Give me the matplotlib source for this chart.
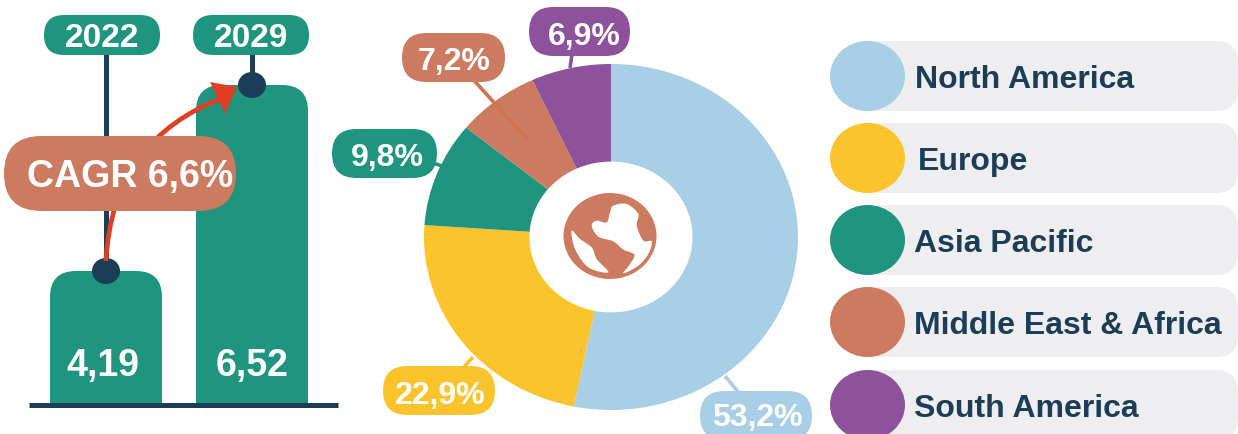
import matplotlib
matplotlib.use("Agg")
import matplotlib.pyplot as plt
from matplotlib.patches import FancyBboxPatch, Ellipse, PathPatch, Polygon
from matplotlib.path import Path

# Data
years = ["2022", "2029"]
market_values = [4.19, 6.52]
cagr = 6.6
regions = ["North America", "Europe", "Asia Pacific", "Middle East & Africa", "South America"]
shares = [53.2, 22.9, 9.8, 7.2, 6.9]

# Colours
TEAL = "#1F9580"
NAVY = "#1B3D57"
CORAL = "#CC7A60"
YELLOW = "#FBC42D"
BLUE = "#A8CFE6"
PURPLE = "#8E519B"
RED = "#E03E24"
GREY = "#EEEEF0"
region_colors = [BLUE, YELLOW, TEAL, CORAL, PURPLE]

W, H = 1238, 435
plt.rcParams["font.family"] = ["Liberation Sans", "DejaVu Sans"]
plt.rcParams["font.weight"] = "bold"


def comma(v, digits=1):
    return f"{v:.{digits}f}".replace(".", ",")


def px_axes(x0, y0, x1, y1, zorder):
    # axes placed with pixel coords measured from the top left
    ax = fig.add_axes([x0 / W, 1 - y1 / H, (x1 - x0) / W, (y1 - y0) / H], zorder=zorder)
    ax.patch.set_alpha(0)
    return ax


def pill(ax, x0, y0, x1, y1, color, radius=None, zorder=3):
    r = (y1 - y0) / 2 if radius is None else radius
    ax.add_patch(FancyBboxPatch((x0, y0), x1 - x0, y1 - y0, boxstyle=f"round,pad=0,rounding_size={r}",
                                fc=color, ec="none", zorder=zorder))


def label(ax, x, yc, s, size, color="white", ha="center", zorder=7):
    # yc is the middle of the capitals, so commas do not push the text up
    ax.text(x, yc + 0.35 * size * 100 / 72, s, color=color, fontsize=size, ha=ha, va="baseline", zorder=zorder)


def blob(points):
    # smooth closed outline through the points
    n = len(points)
    verts = [points[0]]
    codes = [Path.MOVETO]
    for i in range(n):
        p0, p1, p2, p3 = points[i - 1], points[i], points[(i + 1) % n], points[(i + 2) % n]
        c1 = (p1[0] + (p2[0] - p0[0]) / 6, p1[1] + (p2[1] - p0[1]) / 6)
        c2 = (p2[0] - (p3[0] - p1[0]) / 6, p2[1] - (p3[1] - p1[1]) / 6)
        verts += [c1, c2, p2]
        codes += [Path.CURVE4] * 3
    return Path(verts, codes)


fig = plt.figure(figsize=(W / 100, H / 100), dpi=100)

# Bars: axis does not start at zero, baseline sits at about 2.52
ax_bar = px_axes(0, 0, 350, 405, 1)
ax_bar.set_xlim(0, 350)
ax_bar.set_ylim(2.524, 7.597)
ax_bar.axis("off")
bar_centers = [106, 252]
per_px = (7.597 - 2.524) / 405
stem_top = 2.524 + (405 - 40) * per_px
for cx, v in zip(bar_centers, market_values):
    ax_bar.add_patch(FancyBboxPatch((cx - 56, 2.0), 112, v - 2.0, boxstyle="round,pad=0,rounding_size=26",
                                    mutation_aspect=per_px, fc=TEAL, ec="none", zorder=2))
    ax_bar.plot([cx, cx], [v, stem_top], color=NAVY, lw=3.6, zorder=1, solid_capstyle="butt")

# Donut, the picture is squashed a bit vertically
ax_pie = px_axes(424, 65, 798, 411, 2)
ax_pie.pie(shares, colors=region_colors, startangle=90, counterclock=False, radius=1,
           wedgeprops=dict(width=0.564, linewidth=0))
ax_pie.set_aspect("auto")
ax_pie.set_xlim(-1, 1)
ax_pie.set_ylim(-1, 1)

# Everything else in pixel coords
ax = px_axes(0, 0, W, H, 3)
ax.set_xlim(0, W)
ax.set_ylim(H, 0)
ax.axis("off")

# baseline
ax.plot([29, 338], [405.5, 405.5], color=NAVY, lw=3.6, solid_capstyle="butt", zorder=2)

# dots on top of the bars
for cx, v in zip(bar_centers, market_values):
    y = 405 - (v - 2.524) / per_px
    ax.add_patch(Ellipse((cx, y), 28, 26, fc=NAVY, ec="none", zorder=4))

# year pills
for (x0, x1), year in zip([(44, 160), (193, 309)], years):
    pill(ax, x0, 16, x1, 56, TEAL)
    label(ax, (x0 + x1) / 2, 35, year, 24)

# values in the bars
for cx, v in zip([102.5, 252], market_values):
    label(ax, cx, 362.5, comma(v, 2), 27)

# CAGR arrow
arrow = Path([(106, 262), (112, 140), (225, 98)], [Path.MOVETO, Path.CURVE3, Path.CURVE3])
ax.add_patch(PathPatch(arrow, fc="none", ec=RED, lw=3.4, zorder=5))
ax.add_patch(Polygon([(237, 88), (210, 83), (225, 115)], closed=True, fc=RED, ec="none", zorder=5))
pill(ax, 4, 137, 236, 212, CORAL, zorder=6)
label(ax, 130.5, 174, f"CAGR {comma(cagr)}%", 27)

# pie label pills and their connectors
label_pills = [(700, 392, 812, 441), (383, 367, 495, 416), (332, 130, 437, 179),
               (402, 34, 505, 83), (529, 8, 630, 57)]
label_text_x = [757, 440, 387, 454, 584]
label_text_y = [415, 393, 155, 58.5, 34]
connectors = [((725, 377), (739, 394)), ((473, 358), (463, 369)), ((433, 164), (442, 167)),
              ((470, 77), (527, 140)), ((572, 55), (570, 69))]
connector_colors = [BLUE, YELLOW, TEAL, "#D4714F", PURPLE]
for box, tx, ty, con, cc, col, share in zip(label_pills, label_text_x, label_text_y, connectors,
                                            connector_colors, region_colors, shares):
    ax.plot([con[0][0], con[1][0]], [con[0][1], con[1][1]], color=cc, lw=2.6, zorder=2, solid_capstyle="butt")
    pill(ax, *box, col)
    label(ax, tx, ty, f"{comma(share)}%", 23)

# globe icon
def zoomed(pts):
    return [(555 + x / 3, 185 + y / 3) for x, y in pts]

ax.add_patch(Ellipse((610, 237), 93, 86, fc=CORAL, ec="none", zorder=3))
ocean_a = zoomed([(175, 65), (215, 60), (250, 90), (245, 125), (265, 170), (290, 172), (280, 210), (250, 245),
                  (205, 268), (225, 240), (238, 212), (205, 197), (175, 172), (130, 158), (110, 125), (125, 110),
                  (155, 115), (165, 85)])
ocean_b = zoomed([(50, 140), (75, 165), (110, 190), (125, 225), (160, 265), (100, 250), (60, 195)])
for shape in (ocean_a, ocean_b):
    ax.add_patch(PathPatch(blob(shape), fc="white", ec="none", zorder=4))

# legend rows
row_y = [77, 159, 241, 323, 406]
label_x = [915, 918, 914, 914, 914]
for y, name, col, lx in zip(row_y, regions, region_colors, label_x):
    pill(ax, 850, y - 35, 1238, y + 35, GREY, radius=22, zorder=1)
    ax.add_patch(Ellipse((867.5, y), 75, 70, fc=col, ec="none", zorder=3))
    label(ax, lx, y, name, 23, color=NAVY, ha="left")

fig.savefig("out.png", dpi=100, facecolor="white")
